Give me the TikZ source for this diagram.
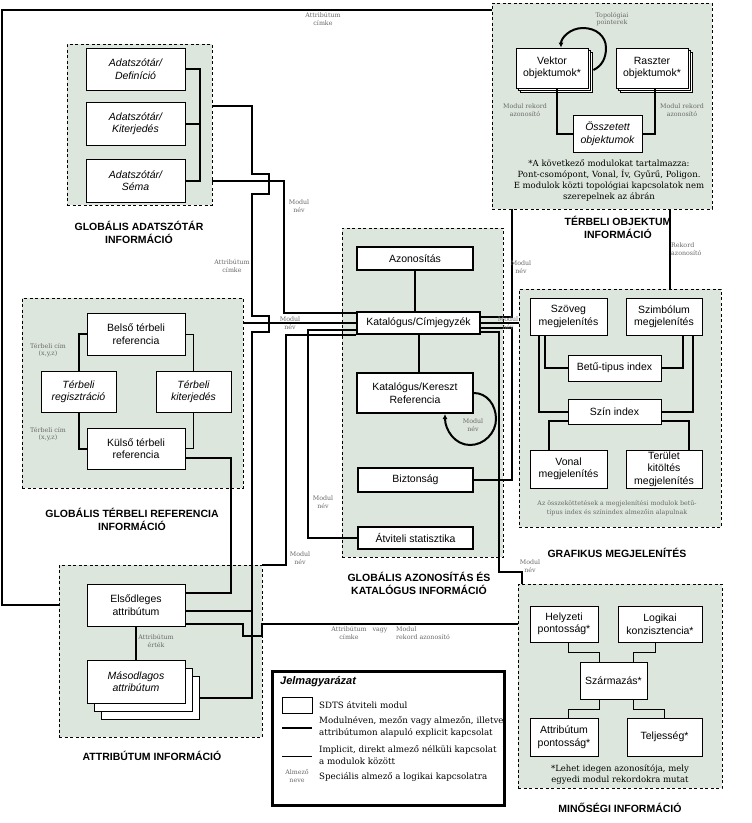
\documentclass[tikz,border=0pt]{standalone}
\usepackage{fontspec}
\setmainfont{DejaVu Serif}
\setsansfont{Liberation Sans}
\usetikzlibrary{arrows.meta, positioning, shadows}

\definecolor{regfill}{RGB}{221,230,221}
\definecolor{lblgray}{RGB}{105,105,105}

\tikzset{
  regbox/.style={draw, dash pattern=on 3pt off 2.5pt, line width=0.8pt, fill=regfill},
  modbox/.style={draw, fill=white, line width=0.8pt, align=center, inner sep=0pt,
    font=\sffamily\fontsize{10.5}{12.5}\selectfont},
  itbox/.style={modbox, font=\sffamily\itshape\fontsize{10.5}{12.5}\selectfont},
  catbox/.style={modbox, line width=2pt},
  stackbox/.style={modbox,
    copy shadow={shadow xshift=4pt, shadow yshift=-4pt},
    copy shadow={shadow xshift=2pt, shadow yshift=-2pt}},
  regtitle/.style={align=center, inner sep=0pt, font=\sffamily\bfseries\fontsize{10.5}{13}\selectfont},
  lbl/.style={align=center, inner sep=0pt, text=lblgray, font=\fontsize{6.3}{7.5}\selectfont},
  legtext/.style={align=left, inner sep=0pt, font=\fontsize{8.7}{12}\selectfont},
  link/.style={line width=2pt},
  thinlink/.style={line width=0.8pt},
}

\begin{document}
\begin{tikzpicture}[x=1pt, y=-1pt]

\fill[white] (0,0) rectangle (752,823);
\useasboundingbox (0,0) rectangle (752,823);

% --- Regions ---
\node[regbox, minimum width=145pt, minimum height=161pt] (adatreg) at (139.5,124.5) {};
\node[regbox, minimum width=221pt, minimum height=190pt] (refreg)  at (132.5,393) {};
\node[regbox, minimum width=203pt, minimum height=172pt] (attrreg) at (160.5,651) {};
\node[regbox, minimum width=161pt, minimum height=329pt] (azonreg) at (422.5,392.5) {};
\node[regbox, minimum width=220pt, minimum height=206pt] (objreg)  at (602,106) {};
\node[regbox, minimum width=202pt, minimum height=238pt] (grafreg) at (620,408) {};
\node[regbox, minimum width=204pt, minimum height=204pt] (minreg)  at (620,686) {};

% --- Data dictionary ---
\node[itbox, minimum width=99pt, minimum height=42pt] (defin)  at (135.5,69)    {Adatszótár/\\Definíció};
\node[itbox, minimum width=99pt, minimum height=43pt] (kiterj) at (135.5,123.5) {Adatszótár/\\Kiterjedés};
\node[itbox, minimum width=99pt, minimum height=43pt] (sema)   at (135.5,180.5) {Adatszótár/\\Séma};

% --- Spatial reference ---
\node[modbox, minimum width=98pt, minimum height=42pt] (belso)   at (136,334)    {Belső térbeli\\referencia};
\node[itbox,  minimum width=75pt, minimum height=41pt] (regiszt) at (78.5,391.5) {Térbeli\\regisztráció};
\node[itbox,  minimum width=75pt, minimum height=41pt] (tkiterj) at (193.5,391.5) {Térbeli\\kiterjedés};
\node[modbox, minimum width=98pt, minimum height=41pt] (kulso)   at (136,448.5)  {Külső térbeli\\referencia};

% --- Attributes ---
\node[modbox, minimum width=98pt, minimum height=42pt] (elso) at (136,605) {Elsődleges\\attribútum};
\node[itbox, minimum width=98pt, minimum height=43pt,
  copy shadow={shadow xshift=14pt, shadow yshift=-16pt},
  copy shadow={shadow xshift=7pt, shadow yshift=-8pt}] (maso) at (136,681.5) {Másodlagos\\attribútum};

% --- Identification and catalog ---
\node[catbox, minimum width=116pt, minimum height=23pt] (azon)    at (415,258.5) {Azonosítás};
\node[catbox, minimum width=123pt, minimum height=22pt] (katal)   at (418.5,323) {Katalógus/Címjegyzék};
\node[catbox, minimum width=116pt, minimum height=40pt] (kereszt) at (415,393)   {Katalógus/Kereszt\\Referencia};
\node[catbox, minimum width=115pt, minimum height=24pt] (bizt)    at (415.5,480) {Biztonság};
\node[catbox, minimum width=115pt, minimum height=22pt] (atvit)   at (415.5,538) {Átviteli statisztika};

% --- Spatial objects ---
\node[stackbox, minimum width=72pt, minimum height=40pt] (vektor)  at (552,68)  {Vektor\\objektumok*};
\node[stackbox, minimum width=72pt, minimum height=40pt] (raszter) at (652,68)  {Raszter\\objektumok*};
\node[itbox, minimum width=69pt, minimum height=37pt]    (osszet)  at (607.5,133.5) {Összetett\\objektumok};

% --- Graphic display ---
\node[modbox, minimum width=77pt, minimum height=37pt] (szoveg)  at (568.5,316.5) {Szöveg\\megjelenítés};
\node[modbox, minimum width=76pt, minimum height=37pt] (szimb)   at (664,316.5)   {Szimbólum\\megjelenítés};
\node[modbox, minimum width=93pt, minimum height=26pt] (betu)    at (614.5,368)   {Betű-tipus index};
\node[modbox, minimum width=93pt, minimum height=25pt] (szin)    at (614.5,411.5) {Szín index};
\node[modbox, minimum width=77pt, minimum height=38pt] (vonal)   at (568.5,469)   {Vonal\\megjelenítés};
\node[modbox, minimum width=76pt, minimum height=38pt] (terulet) at (664,469)     {Terület\\kitöltés\\megjelenítés};

% --- Quality ---
\node[modbox, minimum width=68pt, minimum height=36pt] (helyz)  at (564,624)     {Helyzeti\\pontosság*};
\node[modbox, minimum width=84pt, minimum height=36pt] (logik)  at (660,624)     {Logikai\\konzisztencia*};
\node[modbox, minimum width=67pt, minimum height=37pt] (szarm)  at (613.5,680.5) {Származás*};
\node[modbox, minimum width=68pt, minimum height=38pt] (attrp)  at (564,737)     {Attribútum\\pontosság*};
\node[modbox, minimum width=75pt, minimum height=38pt] (teljes) at (664.5,737)   {Teljesség*};

% --- Links inside regions ---
\draw[link] (defin.east) -- ++(15,0) |- (sema.east);
\draw[link] (kiterj.east) -- ++(15,0);

\draw[link] (belso.west) -| (regiszt.north);
\draw[link] (regiszt.south) |- (kulso.west);
\draw[thinlink] (belso.east) -| (tkiterj.north);
\draw[thinlink] (tkiterj.south) |- (kulso.east);

\draw[link] (elso.south) -- (maso.north);

\draw[link] (azon.south) -- (azon.south |- katal.north);
\draw[link] (katal.south) -- (katal.south |- kereszt.north);
\draw[link, -{Latex[length=5pt,width=5pt]}] (kereszt.east)
  .. controls (487,393) and (496,405) .. (496,419)
  .. controls (496,433) and (484,445) .. (470,445)
  .. controls (455,445) and (445,430) .. ([xshift=30pt]kereszt.south);

\draw[link] ([xshift=5pt]vektor.south) |- (osszet.west);
\draw[link] ([xshift=3pt]raszter.south) |- (osszet.east);
\draw[link, -{Latex[length=5pt,width=5pt]}] ([xshift=5pt,yshift=-2pt]vektor.east)
  .. controls (602,66) and (606,58) .. (606,48)
  .. controls (606,36) and (596,28) .. (583,28)
  .. controls (570,28) and (561,38) .. ([xshift=9pt]vektor.north);

\draw[link] ([xshift=-23.5pt]szoveg.south) |- (betu.west);
\draw[link] ([xshift=-29.5pt]szoveg.south) |- (szin.west);
\draw[link] ([xshift=19pt]szimb.south) |- (betu.east);
\draw[link] ([xshift=29pt]szimb.south) |- (szin.east);
\draw[link] ([xshift=-19.5pt]vonal.north) |- ([yshift=-9.5pt]szin.west);
\draw[link] ([xshift=25pt]terulet.north) |- ([yshift=-9.5pt]szin.east);

\draw[thinlink] ([xshift=4pt]helyz.south) -- ++(0,10) -| ([xshift=-14.5pt]szarm.north);
\draw[thinlink] ([xshift=-5pt]logik.south) -- ++(0,10) -| ([xshift=19.5pt]szarm.north);
\draw[thinlink] ([xshift=-14.5pt]szarm.south) -- ++(0,9.5) -| ([xshift=4pt]attrp.north);
\draw[thinlink] ([xshift=19.5pt]szarm.south) -- ++(0,9.5) -| (teljes.north);

% --- Links between regions ---
\coordinate (framecorner) at (2,10);
\draw[link] (elso -| attrreg.west) -| (framecorner) -- (framecorner -| objreg.west);

% dictionary bus down to the attributes (with jogs)
\draw[link] ([yshift=18.5pt]adatreg.east) -- ++(40,0) -- ++(0,68) -- ++(17,0) -- ++(0,20)
  -- ++(-17,0) -- ++(0,122) -- ++(17,0) -- ++(0,16) -- ++(-17,0)
  |- ([xshift=15pt,yshift=-16pt]maso.east);
\draw[link] ([yshift=-6pt]elso.east) -- ++(67,0);

\draw[link] (sema.east -| adatreg.east) -- ++(72,0) |- ([yshift=10pt]katal.west);
\draw[link] (katal.west -| refreg.east) -- (katal.west);
\draw[link] ([yshift=-9.5pt]kulso.east) -- ++(46,0) |- ([yshift=12pt]elso.east);
\draw[link] ([yshift=-19pt]elso.east) -- ++(58,0) -- ++(0,12) -- ++(19,0) |- (helyz -| minreg.west);

\draw[link] ([yshift=-7pt]katal.west) -- ++(-48,0) |- (atvit.west);
\draw[link] ([yshift=-11.5pt]katal.west) -- ++(-70,0) |- (attrreg.north east);

\draw[link] ([yshift=6pt]katal.east) -| ([xshift=-90pt]objreg.south);
\draw[link] (katal.east) -- (katal.east -| grafreg.west);
\draw[link] ([yshift=-5pt]katal.east) -- ++(31,0) |- (bizt.east);
\draw[link] ([yshift=-9pt]katal.east) -| (499,572) -| ([xshift=-98pt]minreg.north);

\draw[link] ([xshift=68pt]objreg.south) -- ([xshift=68pt]objreg.south |- grafreg.north);

% --- Region titles ---
\node[regtitle] (adattitle) at (139,232) {GLOBÁLIS ADATSZÓTÁR\\INFORMÁCIÓ};
\node[regtitle] (reftitle)  at (132,519) {GLOBÁLIS TÉRBELI REFERENCIA\\INFORMÁCIÓ};
\node[regtitle] (attrtitle) at (152,756) {ATTRIBÚTUM INFORMÁCIÓ};
\node[regtitle] (azontitle) at (419,583) {GLOBÁLIS AZONOSÍTÁS ÉS\\KATALÓGUS INFORMÁCIÓ};
\node[regtitle] (objtitle)  at (618,227) {TÉRBELI OBJEKTUM\\INFORMÁCIÓ};
\node[regtitle] (graftitle) at (617,553) {GRAFIKUS MEGJELENÍTÉS};
\node[regtitle] (mintitle)  at (620,808) {MINŐSÉGI INFORMÁCIÓ};

% --- Notes ---
\node[align=center, inner sep=0pt, font=\fontsize{8.5}{11.2}\selectfont] (objnote) at (609,180.5)
  {*A következő modulokat tartalmazza:\\Pont-csomópont, Vonal, Ív, Gyűrű, Poligon.\\E modulok közti topológiai kapcsolatok nem\\szerepelnek az ábrán};
\node[lbl, font=\fontsize{6.3}{9.5}\selectfont] (grafnote) at (617,508)
  {Az összeköttetések a megjelenítési modulok betű-\\típus index és színindex almezőin alapulnak};
\node[align=center, inner sep=0pt, font=\fontsize{8.5}{11}\selectfont] (minnote) at (620,774.5)
  {*Lehet idegen azonosítója, mely\\egyedi modul rekordokra mutat};

% --- Link labels ---
\foreach \lx/\ly [count=\i] in {299/206, 290/323, 521/267, 508/323, 473/425, 323/502, 300/558, 530/566}
  \node[lbl] (modnev\i) at (\lx,\ly) {Modul\\név};

\node[lbl] (cimke1) at (323,19)  {Attribútum\\címke};
\node[lbl] (topo)   at (612,19)  {Topológiai\\pointerek};
\node[lbl] (rekaz1) at (525,110) {Modul rekord\\azonosító};
\node[lbl] (rekaz2) at (682,110) {Modul rekord\\azonosító};
\node[lbl] (cimke2) at (232,266) {Attribútum\\címke};
\node[lbl, anchor=west, align=left] (rekord) at (671,249) {Rekord\\azonosító};
\node[lbl] (tcim1)  at (48,350)  {Térbeli cím\\(x,y,z)};
\node[lbl] (tcim2)  at (48,434)  {Térbeli cím\\(x,y,z)};
\node[lbl] (ertek)  at (156,641) {Attribútum\\érték};
\node[lbl] (cimke3) at (349,633) {Attribútum\\címke};
\node[lbl] (vagy)   at (380,631) {vagy};
\node[lbl, anchor=west, align=left] (modrek) at (396,633) {Modul\\rekord azonosító};

% --- Legend ---
\node[draw, line width=3pt, minimum width=232pt, minimum height=134pt] (legend) at (388,738) {};
\node[anchor=west, inner sep=0pt, font=\sffamily\bfseries\itshape\fontsize{11}{12}\selectfont] (legtitle) at (280,682) {Jelmagyarázat};
\node[draw, line width=0.8pt, minimum width=30pt, minimum height=16pt] (legmod) at (297,705) {};
\node[legtext, anchor=west] (legmodtext) at (319,705) {SDTS átviteli modul};
\coordinate (legthickA) at (282,728);
\coordinate (legthickB) at (312,728);
\draw[link] (legthickA) -- (legthickB);
\node[legtext, anchor=west] (legthicktext) at (319,727) {Modulnéven, mezőn vagy almezőn, illetve\\attribútumon alapuló explicit kapcsolat};
\coordinate (legthinA) at (282,756);
\coordinate (legthinB) at (312,756);
\draw[thinlink] (legthinA) -- (legthinB);
\node[legtext, anchor=west] (legthintext) at (319,755) {Implicit, direkt almező nélküli kapcsolat\\a modulok között};
\node[lbl] (legalm) at (297,776) {Almező\\neve};
\node[legtext, anchor=west] (legalmtext) at (319,777) {Speciális almező a logikai kapcsolatra};

\end{tikzpicture}
\end{document}
